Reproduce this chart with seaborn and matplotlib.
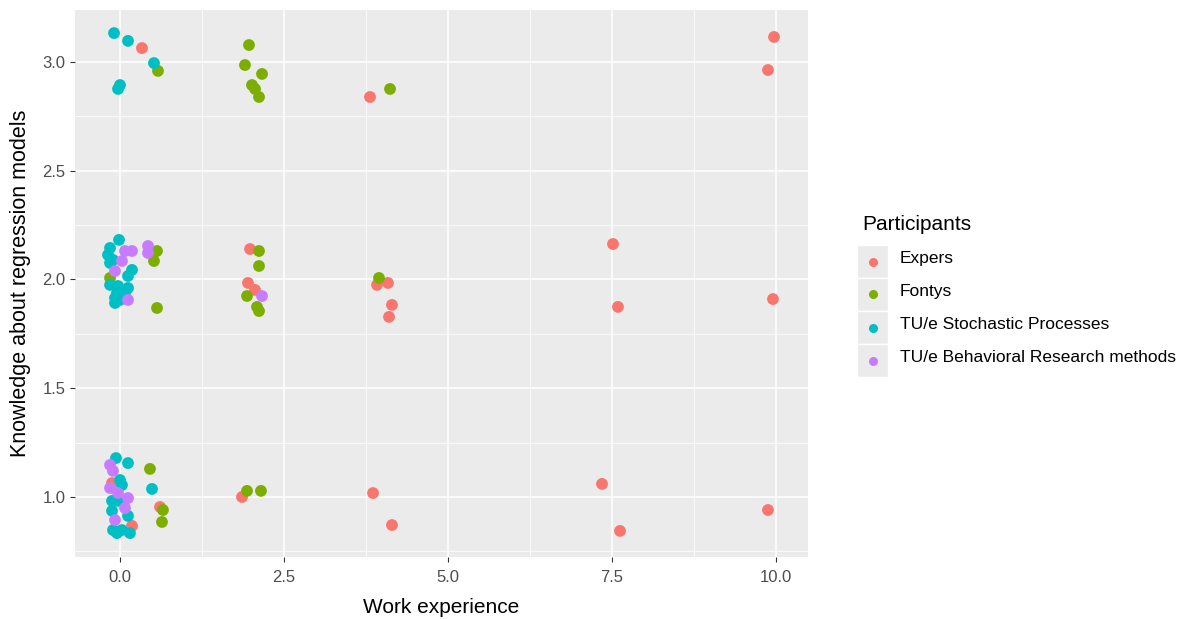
import matplotlib
matplotlib.use("Agg")
import matplotlib.pyplot as plt
from matplotlib.patches import Rectangle
from matplotlib.lines import Line2D
from matplotlib.ticker import MultipleLocator
import pandas as pd
import seaborn as sns

# Participant groups and their colours
groups = ["Expers", "Fontys", "TU/e Stochastic Processes",
          "TU/e Behavioral Research methods"]
palette = ["#F8766D", "#7CAE00", "#00BFC4", "#C77CFF"]

# Jittered observations (work experience in years, knowledge score)
expers_x = [0.335, 3.811, 9.878, 9.970, 1.982, 1.951, 2.058, 3.918, 4.085,
            4.146, 4.101, 7.515, 7.591, 9.954, -0.122, 0.183, 0.610, 1.860,
            3.857, 4.146, 7.348, 7.622, 9.878]
expers_y = [3.064, 2.839, 2.963, 3.115, 2.140, 1.984, 1.952, 1.975, 1.984,
            1.883, 1.828, 2.163, 1.874, 1.910, 1.064, 0.867, 0.954, 1.000,
            1.018, 0.871, 1.060, 0.844, 0.940]

fontys_x = [0.579, 1.966, 1.905, 2.165, 2.012, 2.058, 2.119, 4.116, 0.564,
            0.518, 0.564, -0.152, 2.119, 2.119, 1.936, 2.088, 2.119, 3.948,
            0.457, 0.655, 0.640, 1.936, 2.149]
fontys_y = [2.959, 3.078, 2.986, 2.945, 2.894, 2.876, 2.839, 2.876, 2.131,
            2.085, 1.869, 2.007, 2.131, 2.062, 1.924, 1.874, 1.855, 2.007,
            1.129, 0.940, 0.885, 1.028, 1.028]

stoch_x = [-0.091, 0.122, 0.518, -0.030, 0.000,
           -0.015, -0.152, -0.183, -0.107, -0.152, 0.183, 0.122, -0.152,
           -0.030, 0.122, -0.046, 0.076, -0.076, 0.000, -0.076,
           -0.061, 0.122, 0.000, 0.030, 0.488, -0.122, -0.030, -0.122,
           0.122, -0.107, 0.030, 0.152, -0.046]
stoch_y = [3.133, 3.097, 2.995, 2.876, 2.894,
           2.182, 2.145, 2.113, 2.090, 2.076, 2.044, 2.016, 1.975,
           1.970, 1.961, 1.938, 1.938, 1.915, 1.906, 1.892,
           1.179, 1.156, 1.078, 1.055, 1.037, 0.982, 0.982, 0.936,
           0.913, 0.848, 0.848, 0.834, 0.834]

behav_x = [0.076, 0.183, 0.030, -0.076, 0.122, 0.427, 0.427, 2.165,
           -0.152, -0.107, -0.152, -0.030, 0.122, 0.076, -0.076]
behav_y = [2.131, 2.131, 2.085, 2.039, 1.906, 2.154, 2.122, 1.924,
           1.147, 1.120, 1.041, 1.018, 0.995, 0.949, 0.894]

xs = [expers_x, fontys_x, stoch_x, behav_x]
ys = [expers_y, fontys_y, stoch_y, behav_y]
df = pd.concat(
    [pd.DataFrame({"experience": x, "knowledge": y, "Participants": g})
     for g, x, y in zip(groups, xs, ys)],
    ignore_index=True,
)

W, H = 1192, 619
sns.set_style("darkgrid")
plt.rcParams["font.family"] = ["Liberation Sans", "DejaVu Sans"]

fig = plt.figure(figsize=(W / 100, H / 100), dpi=100)
fig.patch.set_facecolor("white")
ax = fig.add_axes([75 / W, 1 - 557 / H, 733 / W, 547 / H])

sns.scatterplot(data=df, x="experience", y="knowledge", hue="Participants",
                hue_order=groups, palette=palette, s=72, linewidth=0,
                alpha=1, legend=False, ax=ax, zorder=3)

ax.set_facecolor("#EBEBEB")
ax.set_xlim(-0.686, 10.488)
ax.set_ylim(0.724, 3.239)
ax.xaxis.set_minor_locator(MultipleLocator(1.25))
ax.yaxis.set_minor_locator(MultipleLocator(0.25))
ax.set_xticks([0, 2.5, 5, 7.5, 10])
ax.set_xticklabels(["0.0", "2.5", "5.0", "7.5", "10.0"])
ax.set_yticks([1.0, 1.5, 2.0, 2.5, 3.0])
ax.set_yticklabels(["1.0", "1.5", "2.0", "2.5", "3.0"])
ax.grid(True, which="major", color="white", linewidth=1.1, zorder=0)
ax.grid(True, which="minor", color="white", linewidth=0.55, zorder=0)
ax.set_axisbelow(True)
for sp in ax.spines.values():
    sp.set_visible(False)
ax.tick_params(which="major", length=3.5, width=0.8, color="#333333",
               labelsize=12, labelcolor="#4D4D4D", pad=3.5,
               bottom=True, left=True)
ax.tick_params(axis="x", which="major", pad=6)
ax.tick_params(which="minor", length=0)

ax.set_xlabel("Work experience", fontsize=15, color="black", labelpad=9)
ax.set_ylabel("Knowledge about regression models", fontsize=15.5,
              color="black", labelpad=8)

# Legend built from the same group names and colours
fig.text(862 / W, 1 - 225 / H, "Participants", fontsize=15,
         ha="left", va="center", color="black")
for i, (g, c) in enumerate(zip(groups, palette)):
    top = 245 + 33 * i
    fig.add_artist(Rectangle((857 / W, 1 - (top + 33) / H), 31 / W, 33 / H,
                             transform=fig.transFigure, facecolor="#EBEBEB",
                             edgecolor="white", linewidth=1))
    cy = top + 16.5
    fig.add_artist(Line2D([872.5 / W], [1 - cy / H], marker="o",
                          markersize=6.5, color=c, markeredgewidth=0,
                          linestyle="none", transform=fig.transFigure))
    fig.text(900 / W, 1 - (cy - 3) / H, g, fontsize=12.5, ha="left",
             va="center", color="black")

fig.savefig("out.png", dpi=100)
